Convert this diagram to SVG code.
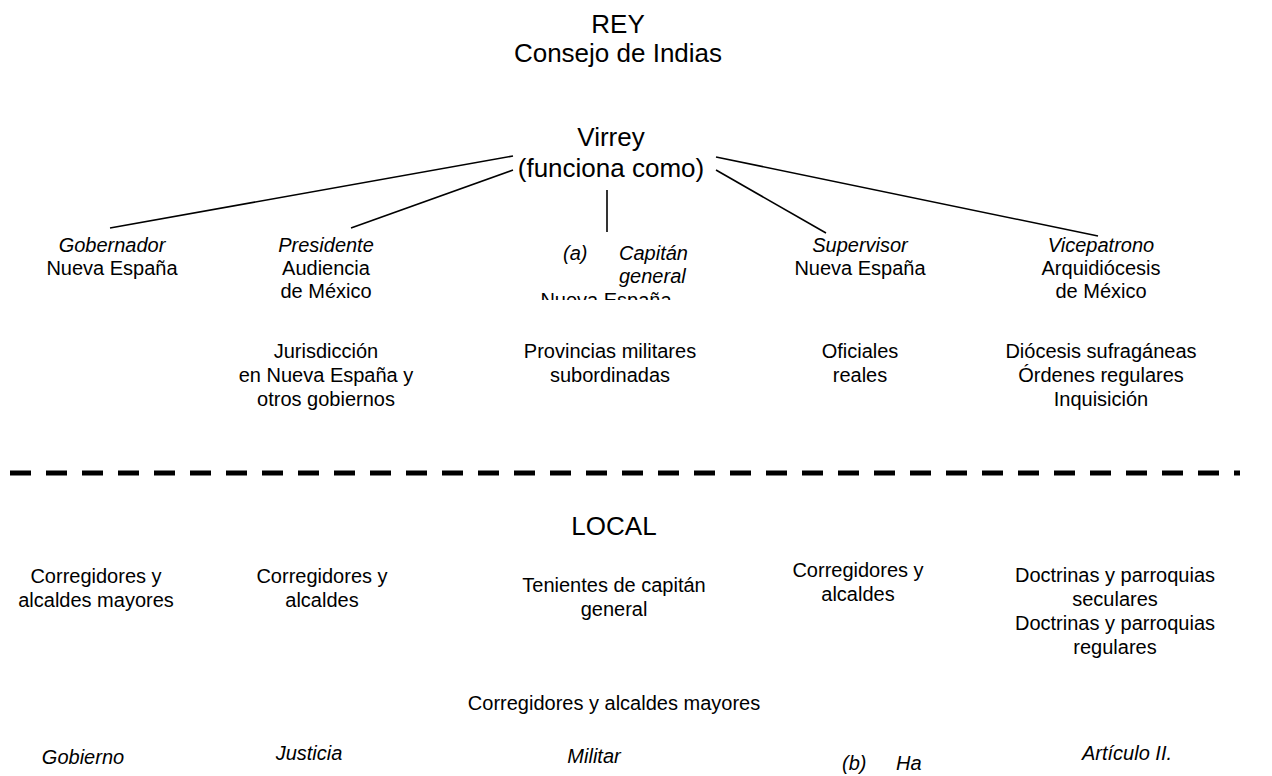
<svg xmlns="http://www.w3.org/2000/svg" width="1272" height="776" viewBox="0 0 1272 776">
<style>
text{font-family:"Liberation Sans",Arial,sans-serif;fill:#000;}
.big{font-size:26px;text-anchor:middle;}
.lbl{font-size:20px;text-anchor:middle;}
.it{font-style:italic;}
.st{text-anchor:start;}
.con{stroke:#000;stroke-width:1.6;fill:none;}
.dash{stroke:#000;stroke-width:5;stroke-dasharray:21 15;fill:none;}
</style>
<defs>
<clipPath id="clipNE"><rect x="0" y="0" width="1272" height="300"/></clipPath>
</defs>
<rect width="1272" height="776" fill="#fff"/>
<g id="rey">
<text class="big" x="618" y="33">REY</text>
<text class="big" x="618" y="62">Consejo de Indias</text>
</g>
<g id="virrey">
<text class="big" x="611" y="146">Virrey</text>
<text class="big" x="611" y="177">(funciona como)</text>
</g>
<g id="connectors">
<line class="con" x1="513" y1="156" x2="110" y2="228"/>
<line class="con" x1="513" y1="170" x2="351" y2="228"/>
<line class="con" x1="607" y1="190" x2="607" y2="232"/>
<line class="con" x1="716" y1="170" x2="826" y2="233"/>
<line class="con" x1="716" y1="157" x2="1098" y2="236"/>
<line class="dash" x1="10" y1="473" x2="1240" y2="473"/>
</g>
<g id="gobernador">
<text class="lbl it" x="112" y="252">Gobernador</text>
<text class="lbl" x="112" y="275">Nueva España</text>
</g>
<g id="presidente">
<text class="lbl it" x="326" y="252">Presidente</text>
<text class="lbl" x="326" y="275">Audiencia</text>
<text class="lbl" x="326" y="298">de México</text>
</g>
<g id="capitan">
<text class="lbl it st" x="563" y="260">(a)</text>
<text class="lbl it st" x="619" y="260">Capitán</text>
<text class="lbl it st" x="619" y="283">general</text>
<text class="lbl" x="606" y="307" clip-path="url(#clipNE)">Nueva España</text>
</g>
<g id="supervisor">
<text class="lbl it" x="860" y="252">Supervisor</text>
<text class="lbl" x="860" y="275">Nueva España</text>
</g>
<g id="vicepatrono">
<text class="lbl it" x="1101" y="252">Vicepatrono</text>
<text class="lbl" x="1101" y="275">Arquidiócesis</text>
<text class="lbl" x="1101" y="298">de México</text>
</g>
<g id="jurisdiccion">
<text class="lbl" x="326" y="358">Jurisdicción</text>
<text class="lbl" x="326" y="382">en Nueva España y</text>
<text class="lbl" x="326" y="406">otros gobiernos</text>
</g>
<g id="provincias">
<text class="lbl" x="610" y="358">Provincias militares</text>
<text class="lbl" x="610" y="382">subordinadas</text>
</g>
<g id="oficiales">
<text class="lbl" x="860" y="358">Oficiales</text>
<text class="lbl" x="860" y="382">reales</text>
</g>
<g id="diocesis">
<text class="lbl" x="1101" y="358">Diócesis sufragáneas</text>
<text class="lbl" x="1101" y="382">Órdenes regulares</text>
<text class="lbl" x="1101" y="406">Inquisición</text>
</g>
<g id="local">
<text class="big" x="614" y="535">LOCAL</text>
</g>
<g id="loc1">
<text class="lbl" x="96" y="583">Corregidores y</text>
<text class="lbl" x="96" y="607">alcaldes mayores</text>
</g>
<g id="loc2">
<text class="lbl" x="322" y="583">Corregidores y</text>
<text class="lbl" x="322" y="607">alcaldes</text>
</g>
<g id="loc3">
<text class="lbl" x="614" y="592">Tenientes de capitán</text>
<text class="lbl" x="614" y="616">general</text>
</g>
<g id="loc4">
<text class="lbl" x="858" y="577">Corregidores y</text>
<text class="lbl" x="858" y="601">alcaldes</text>
</g>
<g id="loc5">
<text class="lbl" x="1115" y="582">Doctrinas y parroquias</text>
<text class="lbl" x="1115" y="606">seculares</text>
<text class="lbl" x="1115" y="630">Doctrinas y parroquias</text>
<text class="lbl" x="1115" y="654">regulares</text>
</g>
<g id="corregidores-bottom">
<text class="lbl" x="614" y="710">Corregidores y alcaldes mayores</text>
</g>
<g id="categories">
<text class="lbl it" x="83" y="764">Gobierno</text>
<text class="lbl it" x="309" y="760">Justicia</text>
<text class="lbl it" x="594" y="763">Militar</text>
<text class="lbl it st" x="842" y="770">(b)</text>
<text class="lbl it st" x="896" y="770">Ha</text>
<text class="lbl it" x="1127" y="760">Artículo II.</text>
</g>
</svg>
